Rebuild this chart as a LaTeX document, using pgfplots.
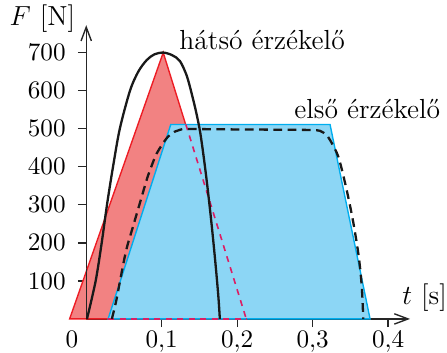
\documentclass[11pt,border=0pt]{standalone}
\usepackage{pgfplots}
\pgfplotsset{compat=1.18}
\usetikzlibrary{arrows.meta}
\definecolor{redfill}{RGB}{242,130,130}
\definecolor{redline}{RGB}{237,28,36}
\definecolor{bluefill}{RGB}{140,214,245}
\definecolor{blueline}{RGB}{0,174,239}
\definecolor{pinkdash}{RGB}{220,30,100}
\definecolor{curve}{RGB}{25,25,25}
\begin{document}
\begin{tikzpicture}
\useasboundingbox (-37.5pt,-14.8pt) rectangle (156.9pt,138.7pt);
\begin{axis}[
  at={(0,0)}, anchor=south west,
  x=328.3pt, y=0.16548pt,
  xmin=0, xmax=0.429, ymin=0, ymax=772,
  enlargelimits=false,
  axis lines=middle,
  axis line style={black!85, line width=0.6pt, -{Straight Barb[length=6pt,width=4.5pt]}},
  clip=false,
  xtick={0.1,0.2,0.3,0.4},
  ytick={100,200,300,400,500,600,700},
  tick align=outside,
  major tick length=3.6pt,
  tick style={black!85, line width=0.6pt},
  /pgf/number format/use comma,
  xticklabel style={anchor=north, yshift=1.9pt},
  yticklabel style={anchor=east, xshift=-1.5pt},
]
% red triangle
\addplot[fill=redfill, draw=redline, line width=0.6pt] coordinates {(-0.022,0) (0.102,700) (0.212,0)} -- cycle;
% blue trapezoid
\addplot[fill=bluefill, draw=blueline, line width=0.6pt] coordinates {(0.029,0) (0.112,511) (0.323,511) (0.376,0)} -- cycle;
% hidden red edges
\addplot[pinkdash, line width=0.7pt, dash pattern=on 2.6pt off 2.4pt] coordinates {(0.132,511) (0.212,0)};
\addplot[pinkdash, line width=0.7pt, dash pattern=on 2.6pt off 2.4pt] coordinates {(0.029,0) (0.212,0)};
% y axis over red
\addplot[black!85, line width=0.6pt] coordinates {(0,0) (0,130)};
% rear sensor
\addplot[curve, line width=1pt, smooth] coordinates {
(0.001,0) (0.0125,100) (0.0205,200) (0.0275,300) (0.0355,400) (0.0445,500)
(0.058,600) (0.069,650) (0.080,680) (0.090,695) (0.102,700)
(0.114,693) (0.124,678) (0.133,640) (0.140,590) (0.146,540) (0.151,490)
(0.156,420) (0.161,340) (0.166,250) (0.171,150) (0.175,60) (0.177,0)};
% front sensor
\addplot[curve, line width=1pt, smooth, dash pattern=on 3.8pt off 2.4pt] coordinates {
(0.034,0) (0.040,50) (0.045,102) (0.053,181) (0.062,243) (0.0735,321) (0.080,365)
(0.0845,391) (0.0934,435) (0.1066,475) (0.117,492) (0.124,497) (0.135,499)
(0.2,498) (0.28,497) (0.305,496) (0.312,492) (0.318,484) (0.323,470) (0.334,426)
(0.345,339) (0.354,251) (0.361,164) (0.365,85) (0.367,0)};
\node[anchor=north, yshift=-1.7pt] at (axis cs:-0.019,0) {$0$};
\node[anchor=base west, inner sep=0pt, font=\large] at (axis cs:-0.102,770) {$F$ [N]};
\node[anchor=base west, inner sep=0pt, font=\large] at (axis cs:0.4183,37) {$t$ [s]};
\node[anchor=base west, inner sep=0pt, font=\large] at (axis cs:0.1229,707) {hátsó érzékelő};
\node[anchor=base west, inner sep=0pt, font=\large] at (axis cs:0.2752,527) {első érzékelő};
\end{axis}
\end{tikzpicture}
\end{document}
